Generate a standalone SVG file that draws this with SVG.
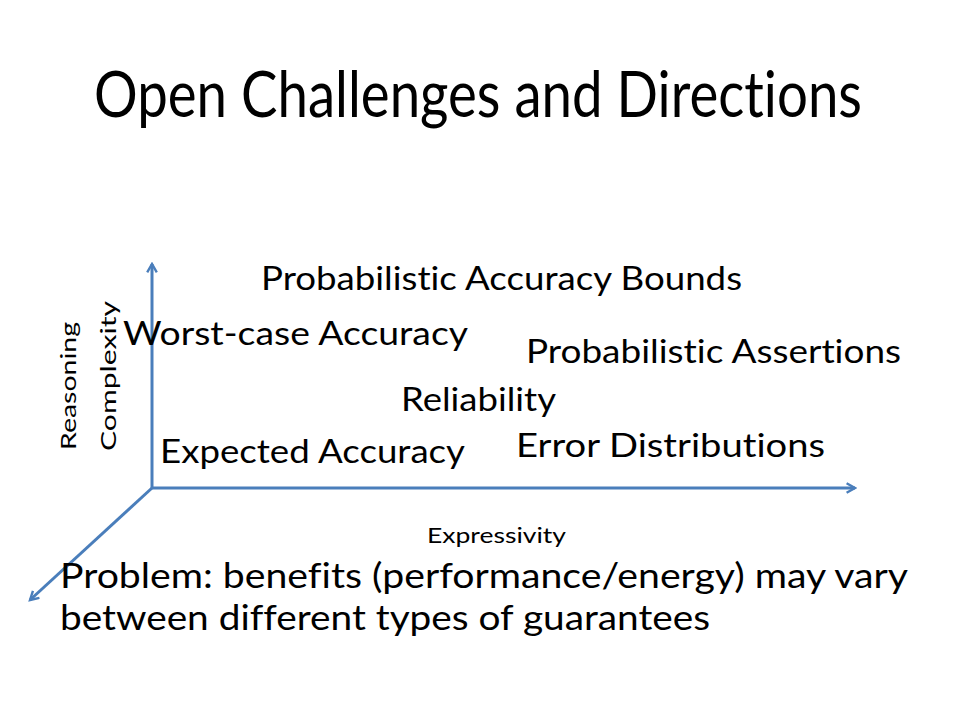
<svg xmlns="http://www.w3.org/2000/svg" width="960" height="720" viewBox="0 0 960 720">
<defs>
<style>
text{font-family:"Lato","Open Sans","Liberation Sans",sans-serif;fill:#000;font-variant-ligatures:none}
.title{font-size:63px}
.lbl{font-size:33px}
.ax{font-size:21px}
.body{font-size:35px}
.axis{stroke:#4a7ebb;stroke-width:3;fill:none}
</style>
<marker id="arr" viewBox="0 0 10 10" refX="8" refY="5" markerWidth="4" markerHeight="4" orient="auto" markerUnits="strokeWidth">
<path d="M1,1 L8,5 L1,9" fill="none" stroke="#4a7ebb" stroke-width="2"/>
</marker>
</defs>
<rect width="960" height="720" fill="#fff"/>
<g id="title"><text class="title" x="94" y="117" textLength="768" lengthAdjust="spacingAndGlyphs">Open Challenges and Directions</text></g>
<g id="connectors">
<line class="axis" x1="152" y1="488" x2="152" y2="264" marker-end="url(#arr)"/>
<line class="axis" x1="152" y1="488" x2="855" y2="488" marker-end="url(#arr)"/>
<line class="axis" x1="152" y1="488" x2="30" y2="600" marker-end="url(#arr)"/>
</g>
<g id="axis-labels">
<text class="ax" transform="translate(76,450) rotate(-90)" textLength="128" lengthAdjust="spacingAndGlyphs">Reasoning</text>
<text class="ax" transform="translate(116,451) rotate(-90)" textLength="150" lengthAdjust="spacingAndGlyphs">Complexity</text>
<text class="ax" x="427" y="543" textLength="139" lengthAdjust="spacingAndGlyphs">Expressivity</text>
</g>
<g id="n-prob-bounds"><text class="lbl" x="261" y="290" textLength="481" lengthAdjust="spacingAndGlyphs">Probabilistic Accuracy Bounds</text></g>
<g id="n-worst"><text class="lbl" x="123" y="345" textLength="345" lengthAdjust="spacingAndGlyphs">Worst-case Accuracy</text></g>
<g id="n-prob-assert"><text class="lbl" x="526" y="363" textLength="375" lengthAdjust="spacingAndGlyphs">Probabilistic Assertions</text></g>
<g id="n-reliability"><text class="lbl" x="401" y="411" textLength="155" lengthAdjust="spacingAndGlyphs">Reliability</text></g>
<g id="n-error"><text class="lbl" x="516" y="457" textLength="309" lengthAdjust="spacingAndGlyphs">Error Distributions</text></g>
<g id="n-expected"><text class="lbl" x="160" y="463" textLength="305" lengthAdjust="spacingAndGlyphs">Expected Accuracy</text></g>
<g id="problem">
<text class="body" x="60" y="588" textLength="848" lengthAdjust="spacingAndGlyphs">Problem: benefits (performance/energy) may vary</text>
<text class="body" x="60" y="630" textLength="650" lengthAdjust="spacingAndGlyphs">between different types of guarantees</text>
</g>
</svg>
